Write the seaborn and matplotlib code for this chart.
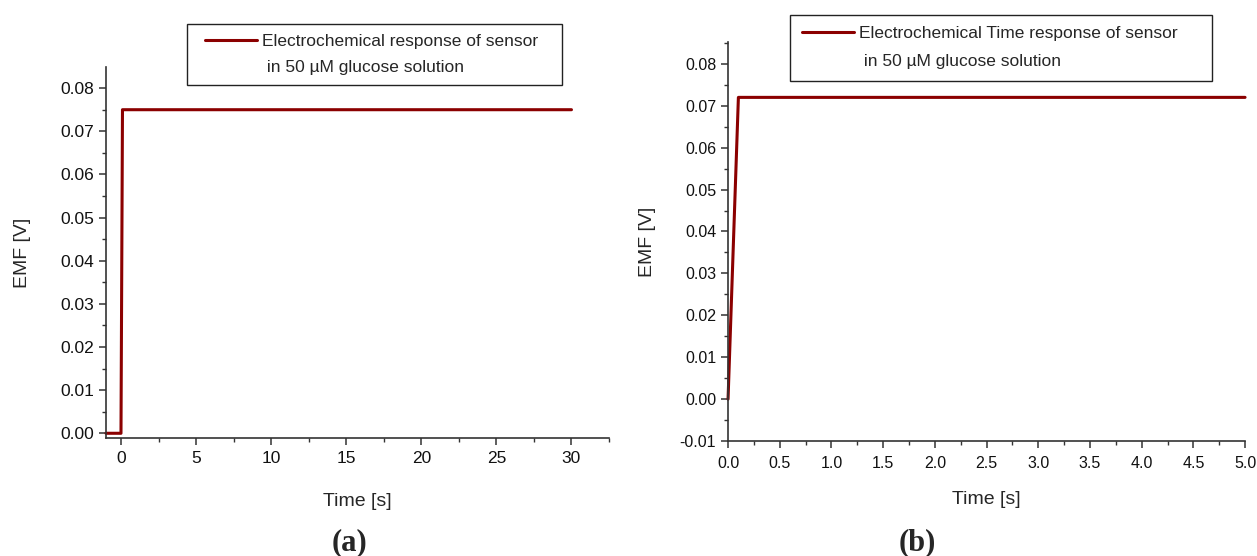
import pandas as pd
import matplotlib.pyplot as plt
import matplotlib.ticker as mticker
from matplotlib.lines import Line2D
from matplotlib.patches import Rectangle
import seaborn as sns

# panel (a): 0-30 s run
time_a = [-1.0, 0.0, 0.1, 30.0]
emf_a = [0.0, 0.0, 0.075, 0.075]
label_a = ["Electrochemical response of sensor", " in 50 µM glucose solution"]

# panel (b): first 5 s
time_b = [0.0, 0.1, 5.0]
emf_b = [0.0, 0.072, 0.072]
label_b = ["Electrochemical Time response of sensor", " in 50 µM glucose solution"]

line_color = "#8b0000"

sns.set_style("ticks")
plt.rcParams["font.family"] = ["Liberation Sans", "DejaVu Sans"]
plt.rcParams["axes.unicode_minus"] = False

fig = plt.figure(figsize=(12.57, 5.56), dpi=100)
ax_a = fig.add_axes([0.0843, 0.2122, 0.4002, 0.6673])
ax_b = fig.add_axes([0.5792, 0.2068, 0.4113, 0.7168])

df_a = pd.DataFrame({"Time": time_a, "EMF": emf_a})
df_b = pd.DataFrame({"Time": time_b, "EMF": emf_b})

sns.lineplot(data=df_a, x="Time", y="EMF", ax=ax_a, color=line_color, lw=2.2,
             estimator=None, sort=False, legend=False)
sns.lineplot(data=df_b, x="Time", y="EMF", ax=ax_b, color=line_color, lw=2.2,
             estimator=None, sort=False, legend=False)

ax_a.set_xlim(-1.0, 32.5)
ax_a.set_ylim(-0.0011, 0.0849)
ax_a.xaxis.set_major_locator(mticker.MultipleLocator(5))
ax_a.xaxis.set_minor_locator(mticker.MultipleLocator(2.5))
ax_a.xaxis.set_major_formatter(mticker.FormatStrFormatter("%d"))

ax_b.set_xlim(0, 5.0)
ax_b.set_ylim(-0.01, 0.0851)
ax_b.xaxis.set_major_locator(mticker.MultipleLocator(0.5))
ax_b.xaxis.set_minor_locator(mticker.MultipleLocator(0.25))
ax_b.xaxis.set_major_formatter(mticker.FormatStrFormatter("%.1f"))

# (axes, tick size, tick pad, xlabel pad, ylabel pad, labels, legend anchor, spacing, frame)
setups = [
    (ax_a, 12.5, 4, 20, 21, label_a, (0.1631, 0.9386), 0.6,
     (187, 24.5, 562, 85)),
    (ax_b, 11.5, 6, 14, 17, label_b, (0.638, 0.9532), 0.72,
     (790, 15, 1212, 81)),
]

W, H = 1257, 556
for ax, tsize, tpad, xpad, ypad, lab, anchor, spacing, box in setups:
    ax.yaxis.set_major_locator(mticker.MultipleLocator(0.01))
    ax.yaxis.set_minor_locator(mticker.MultipleLocator(0.005))
    ax.yaxis.set_major_formatter(mticker.FormatStrFormatter("%.2f"))
    for s in ["top", "right"]:
        ax.spines[s].set_visible(False)
    for s in ["left", "bottom"]:
        ax.spines[s].set_color("#333333")
        ax.spines[s].set_linewidth(1.2)
    ax.tick_params(which="major", direction="out", length=5, width=1.1,
                   color="#333333", labelsize=tsize, labelcolor="#111111")
    ax.tick_params(axis="x", which="major", pad=tpad)
    ax.tick_params(which="minor", direction="out", length=3, width=1.0,
                   color="#333333")
    ax.set_xlabel("Time [s]", fontsize=14, labelpad=xpad)
    ax.set_ylabel("EMF [V]", fontsize=14, labelpad=ypad)
    for l in ax.lines:
        l.set_clip_on(False)

    handles = [Line2D([], [], color=line_color, lw=2.2),
               Line2D([], [], color="none", lw=0)]
    leg = fig.legend(handles, lab, loc="upper left", bbox_to_anchor=anchor,
                     bbox_transform=fig.transFigure, frameon=False,
                     fontsize=12.5, handlelength=3.0, handletextpad=0.3,
                     labelspacing=spacing, borderpad=0, borderaxespad=0)
    x0, y0, x1, y1 = box
    fig.patches.append(Rectangle((x0 / W, 1 - y1 / H), (x1 - x0) / W,
                                 (y1 - y0) / H, transform=fig.transFigure,
                                 fill=False, edgecolor="#222222", lw=1.0))

fig.text(0.278, 0.023, "(a)", family="Liberation Serif", weight="bold",
         fontsize=22, ha="center", va="center")
fig.text(0.7295, 0.023, "(b)", family="Liberation Serif", weight="bold",
         fontsize=22, ha="center", va="center")

fig.savefig("out.png", dpi=100)
